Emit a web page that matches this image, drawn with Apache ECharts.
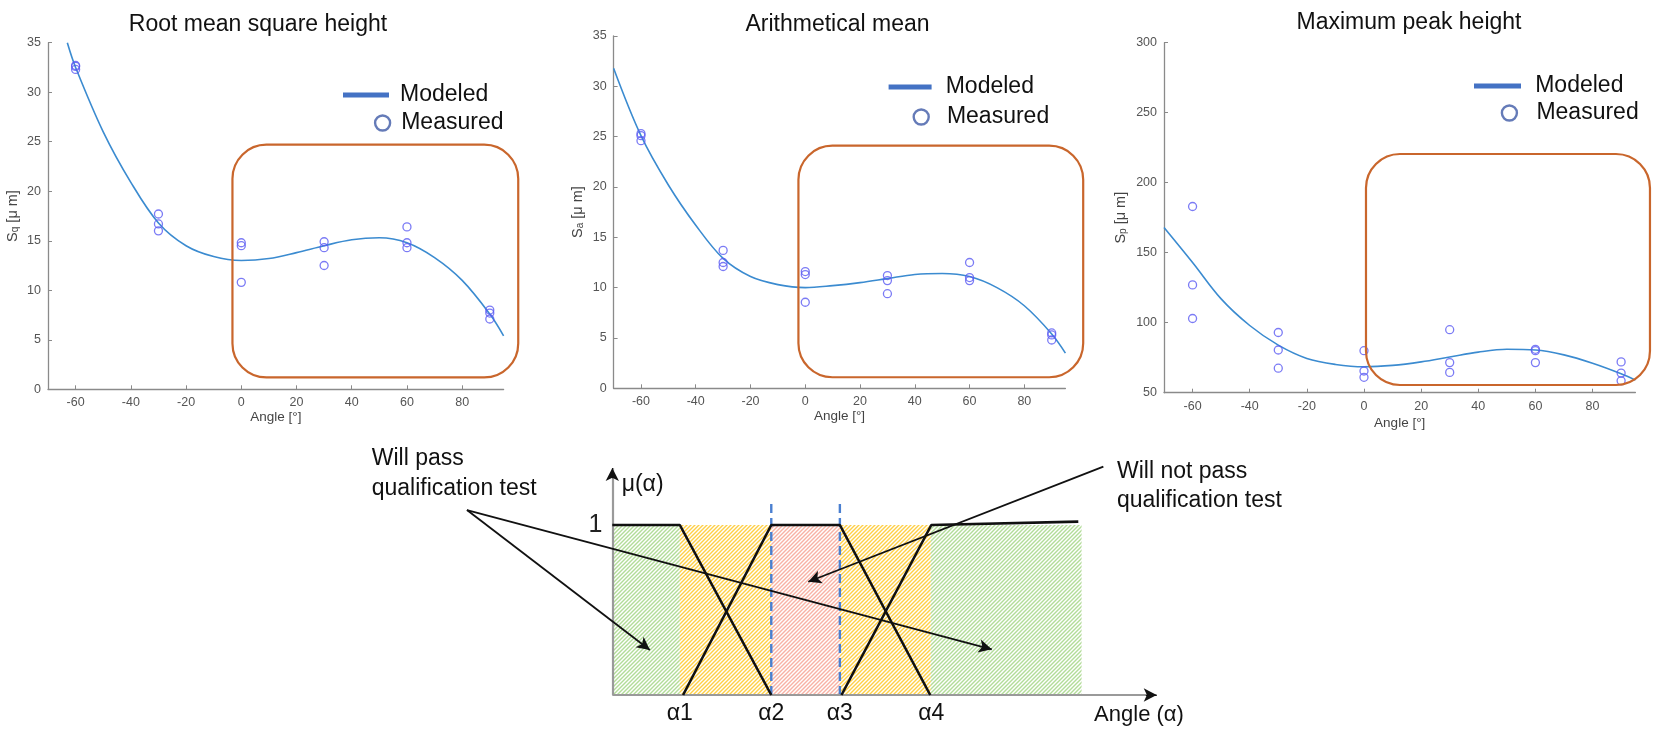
<!DOCTYPE html>
<html><head><meta charset="utf-8">
<script src="https://cdn.jsdelivr.net/npm/echarts@6/dist/echarts.min.js"></script>
<style>html,body{margin:0;padding:0;background:#fff}#c{width:1675px;height:729px}</style>
</head><body><div id="c"></div>
<script>
// ---------- data ----------
const angles = [-60, -30, 0, 30, 60, 90];
const xTicks = [-60, -40, -20, 0, 20, 40, 60, 80];

const sqMeasured = [[32.7, 32.6, 32.3], [17.7, 16.7, 16.0], [14.8, 14.5, 10.8], [14.9, 14.3, 12.5], [16.4, 14.8, 14.3], [8.0, 7.7, 7.1]];
const sqModelX = [-63, -60, -50, -40, -30, -20, -10, 0, 10, 20, 30, 40, 50, 60, 70, 80, 90, 95];
const sqModelY = [35, 32.5, 26, 20.9, 16.8, 14.5, 13.4, 13.0, 13.2, 13.8, 14.5, 15.1, 15.3, 14.8, 13.3, 11.0, 7.6, 5.4];

const saMeasured = [[25.3, 25.1, 24.6], [13.7, 12.5, 12.1], [11.6, 11.3, 8.55], [11.2, 10.7, 9.4], [12.5, 11.0, 10.7], [5.5, 5.3, 4.8]];
const saModelX = [-70, -60, -50, -40, -30, -20, -10, 0, 10, 20, 30, 40, 50, 60, 70, 80, 90, 95];
const saModelY = [31.8, 25.1, 20.2, 16.2, 12.9, 11.1, 10.3, 10.0, 10.2, 10.5, 10.9, 11.3, 11.4, 11.1, 10.0, 8.2, 5.4, 3.5];

const spMeasured = [[183, 127, 103], [93, 80.5, 67.5], [80, 65.5, 61], [95, 71.5, 64.5], [81, 80, 71.5], [72, 64, 58.5]];
const spModelX = [-70, -60, -50, -40, -30, -20, -10, 0, 10, 20, 30, 40, 50, 60, 70, 80, 90, 95];
const spModelY = [168, 143, 117, 98, 84, 74.5, 70.2, 68.5, 69.5, 72, 75.5, 79, 81, 80.5, 77, 71, 63.5, 59];

// highlighted regions (data units): [xMin, xMax, yMin, yMax]
const sqBox = [-3.2, 100.3, 1.2, 24.7];
const saBox = [-2.5, 101.5, 1.1, 24.1];
const spBox = [0.7, 100.1, 55.5, 220.5];

// fuzzy membership diagram (abstract angle units)
const alphaMarks = [12.4, 29.2, 41.8, 58.6];
const alphaNames = ['α1', 'α2', 'α3', 'α4'];
const passLeft = [[0, 1], [12.4, 1], [29.2, 0]];
const failMid = [[13.0, 0], [29.2, 1], [41.8, 1], [58.4, 0]];
const passRight = [[42.1, 0], [58.6, 1], [85.6, 1.02]];
const zones = [[0, 12.4, 'green'], [12.4, 29.2, 'yellow'], [29.2, 41.8, 'red'], [41.8, 58.5, 'yellow'], [58.5, 86.2, 'green']];
const dashTop = 1.137;
const passOrigin = [-26.7, 1.088];
const passTips = [[6.9, 0.265], [69.7, 0.269]];
const failArrow = [[90.2, 1.343], [36.0, 0.666]];
const axisTipX = 100, axisTipY = 1.335;

// ---------- layout / style ----------
const FONT = '"Liberation Sans", Arial, sans-serif';
const panels = [
  { title: 'Root mean square height', sub: 'q', mx: sqModelX, my: sqModelY, meas: sqMeasured, box: sqBox,
    grid: { left: 48, top: 42.7, width: 455.6, height: 346.6 }, y: [0, 35, 5], yGap: 28, xGap: 21,
    tx: 258, ty: 25, lg: { lineL: 343, lineW: 46, lineY: 95, textX: 400, circX: 381.4, circY: 123 } },
  { title: 'Arithmetical mean', sub: 'a', mx: saModelX, my: saModelY, meas: saMeasured, box: saBox,
    grid: { left: 613.6, top: 36, width: 451.8, height: 352.3 }, y: [0, 35, 5], yGap: 28, xGap: 21,
    tx: 837.5, ty: 25, lg: { lineL: 888.6, lineW: 43, lineY: 87, textX: 945.7, circX: 920, circY: 117 } },
  { title: 'Maximum peak height', sub: 'p', mx: spModelX, my: spModelY, meas: spMeasured, box: spBox,
    grid: { left: 1164, top: 42.7, width: 471.4, height: 350 }, y: [50, 300, 50], yGap: 36, xGap: 24,
    tx: 1409, ty: 23, lg: { lineL: 1474, lineW: 47, lineY: 86, textX: 1535.2, circX: 1508.2, circY: 113 } }
];

function hatch(color) {
  const c = document.createElement('canvas');
  c.width = c.height = 4;
  const g = c.getContext('2d');
  g.strokeStyle = color; g.lineWidth = 1.4;
  g.beginPath();
  g.moveTo(0, 4); g.lineTo(4, 0);
  g.moveTo(-1, 1); g.lineTo(1, -1);
  g.moveTo(3, 5); g.lineTo(5, 3);
  g.stroke();
  return { image: c, repeat: 'repeat' };
}
const zoneFill = { green: hatch('#b2dc98'), yellow: hatch('#ffcf45'), red: hatch('#f8b2a4') };

const grids = [], xAxes = [], yAxes = [], series = [], legends = [];
panels.forEach((p, i) => {
  grids.push(p.grid);
  xAxes.push({
    gridIndex: i, type: 'value', min: -70, max: 95,
    name: 'Angle [°]', nameLocation: 'middle', nameGap: p.xGap,
    nameTextStyle: { fontSize: 13.5, color: '#444', fontFamily: FONT },
    axisLine: { onZero: false, lineStyle: { color: '#8a8a8a', width: 1.3 } },
    axisTick: { inside: true, length: 4, customValues: xTicks, lineStyle: { color: '#8a8a8a' } },
    axisLabel: { customValues: xTicks, color: '#555', fontSize: 12.5, margin: 7, fontFamily: FONT },
    splitLine: { show: false }
  });
  yAxes.push({
    gridIndex: i, type: 'value', min: p.y[0], max: p.y[1], interval: p.y[2],
    name: 'S{s|' + p.sub + '} [μ m]', nameLocation: 'middle', nameGap: p.yGap, nameRotate: 90,
    nameTextStyle: { fontSize: 14.5, color: '#444', fontFamily: FONT,
      rich: { s: { fontSize: 10, color: '#444', fontFamily: FONT, verticalAlign: 'bottom', lineHeight: 4 } } },
    axisLine: { onZero: false, lineStyle: { color: '#8a8a8a', width: 1.3 } },
    axisTick: { inside: true, length: 4, lineStyle: { color: '#8a8a8a' } },
    axisLabel: { color: '#555', fontSize: 12.5, margin: 7, fontFamily: FONT },
    splitLine: { show: false }
  });
  series.push({
    name: 'Modeled', type: 'line', xAxisIndex: i, yAxisIndex: i,
    data: p.mx.map((x, k) => [x, p.my[k]]), smooth: 0.35, showSymbol: false, symbol: 'none',
    lineStyle: { color: '#3b8bd0', width: 1.6 }, itemStyle: { color: '#3b8bd0' }, z: 3, silent: true
  });
  const pts = [];
  angles.forEach((a, k) => p.meas[k].forEach(v => pts.push([a, v])));
  series.push({
    name: 'Measured', type: 'scatter', xAxisIndex: i, yAxisIndex: i, data: pts,
    symbol: 'circle', symbolSize: 8,
    itemStyle: { color: 'rgba(0,0,0,0)', borderColor: '#5a5af2', borderWidth: 1.3 }, z: 4, silent: true
  });
  const L = p.lg;
  legends.push({
    data: [{ name: 'Modeled', icon: 'rect' }], left: L.lineL, top: L.lineY - 11.5, padding: 0,
    itemWidth: L.lineW, itemHeight: 5, selectedMode: false,
    itemStyle: { color: '#4472c4', borderWidth: 0 },
    textStyle: { fontSize: 23, color: '#111', fontFamily: FONT, padding: [0, 0, 0, L.textX - L.lineL - L.lineW - 5] }
  });
  legends.push({
    data: [{ name: 'Measured', icon: 'circle' }], left: L.circX - 7.5, top: L.circY - 11.5, padding: 0,
    itemWidth: 15, itemHeight: 17, symbolKeepAspect: false, selectedMode: false,
    itemStyle: { color: '#fff', borderColor: '#3f5aa6', borderWidth: 2.4 },
    textStyle: { fontSize: 23, color: '#111', fontFamily: FONT, padding: [0, 0, 0, L.textX - (L.circX + 7.5) - 5] }
  });
});

// diagram grid (index 3); x = 0 sits 163.3 px right of the grid's left edge
const diagGrid = { left: 449, top: 457, width: 707.7, height: 238 };
grids.push(diagGrid);
xAxes.push({
  gridIndex: 3, type: 'value', min: -30, max: 100,
  axisLine: { show: false, onZero: false }, axisTick: { show: false }, splitLine: { show: false },
  axisLabel: { customValues: alphaMarks, formatter: v => alphaNames[alphaMarks.indexOf(v)],
    fontSize: 23, color: '#111', margin: 7, fontFamily: FONT }
});
yAxes.push({
  gridIndex: 3, type: 'value', min: 0, max: 1.4, offset: -diagGrid.width * 30 / 130,
  axisLine: { show: false, onZero: false }, axisTick: { show: false }, splitLine: { show: false },
  axisLabel: { customValues: [1], formatter: () => '1', fontSize: 25, color: '#222', margin: 10, fontFamily: FONT }
});
series.push({
  name: 'zones', type: 'line', xAxisIndex: 3, yAxisIndex: 3, data: [], z: 1, silent: true,
  markArea: { silent: true, data: zones.map(zn => [
    { coord: [zn[0], 0], itemStyle: { color: zoneFill[zn[2]] } }, { coord: [zn[1], 1] }
  ]) }
});
[passLeft, failMid, passRight].forEach(d => series.push({
  type: 'line', xAxisIndex: 3, yAxisIndex: 3, data: d, symbol: 'none', showSymbol: false,
  lineStyle: { color: '#111', width: 2.6 }, z: 5, silent: true
}));
[alphaMarks[1], alphaMarks[2]].forEach(a => series.push({
  type: 'line', xAxisIndex: 3, yAxisIndex: 3, data: [[a, 0], [a, dashTop]], symbol: 'none',
  lineStyle: { color: '#4a7fd0', width: 2.4, type: [9, 5] }, z: 4, silent: true
}));
const arrowStyle = { color: '#111', width: 1.8, type: 'solid' };
series.push({
  name: 'arrows', type: 'line', xAxisIndex: 3, yAxisIndex: 3, data: [], z: 6, silent: true,
  markLine: {
    silent: true, symbol: ['none', 'arrow'], symbolSize: [10, 13], label: { show: false },
    emphasis: { disabled: true }, animation: false,
    data: [
      [{ coord: [0, 0], symbol: 'none', lineStyle: { color: '#9a9a9a', width: 2.2, type: 'solid' } }, { coord: [axisTipX, 0], symbol: 'none' }],
      [{ coord: [axisTipX - 2, 0], lineStyle: { color: '#111', width: 1, type: 'solid' } }, { coord: [axisTipX, 0] }],
      [{ coord: [0, 0], symbol: 'none', lineStyle: { color: '#9a9a9a', width: 2.2, type: 'solid' } }, { coord: [0, axisTipY], symbol: 'none' }],
      [{ coord: [0, axisTipY - 0.06], lineStyle: { color: '#111', width: 1, type: 'solid' } }, { coord: [0, axisTipY] }],
      [{ coord: passOrigin, lineStyle: arrowStyle }, { coord: passTips[0] }],
      [{ coord: passOrigin, lineStyle: arrowStyle }, { coord: passTips[1] }],
      [{ coord: failArrow[0], lineStyle: arrowStyle }, { coord: failArrow[1] }]
    ]
  }
});

const chart = echarts.init(document.getElementById('c'), null, { renderer: 'canvas' });
chart.setOption({
  backgroundColor: '#fff', animation: false,
  textStyle: { fontFamily: FONT },
  grid: grids, xAxis: xAxes, yAxis: yAxes, series: series, legend: legends
});

// ---------- annotations ----------
const graphics = [];
panels.forEach((p, i) => {
  const a = chart.convertToPixel({ gridIndex: i }, [p.box[0], p.box[3]]);
  const b = chart.convertToPixel({ gridIndex: i }, [p.box[1], p.box[2]]);
  graphics.push({ type: 'rect', z: 10, silent: true,
    shape: { x: a[0], y: a[1], width: b[0] - a[0], height: b[1] - a[1], r: 34 },
    style: { fill: 'none', stroke: '#c9662c', lineWidth: 2.2 } });
  graphics.push({ type: 'text', x: p.tx, y: p.ty, silent: true,
    style: { text: p.title, fill: '#111', font: '23px ' + FONT, align: 'center', verticalAlign: 'middle' } });
});
graphics.push({ type: 'text', x: 371.7, y: 443.3, silent: true,
  style: { text: 'Will pass\nqualification test', fill: '#111', font: '23px ' + FONT, lineHeight: 30, verticalAlign: 'top' } });
graphics.push({ type: 'text', x: 1117, y: 457.5, silent: true,
  style: { text: 'Will not pass\nqualification test', fill: '#111', font: '23px ' + FONT, lineHeight: 28.5, verticalAlign: 'top' } });
graphics.push({ type: 'text', x: 621.7, y: 485, silent: true,
  style: { text: 'μ(α)', fill: '#111', font: '23px ' + FONT, verticalAlign: 'middle' } });
graphics.push({ type: 'text', x: 1139, y: 715, silent: true,
  style: { text: 'Angle (α)', fill: '#111', font: '22px ' + FONT, align: 'center', verticalAlign: 'middle' } });
chart.setOption({ graphic: graphics });
</script>
</body></html>
